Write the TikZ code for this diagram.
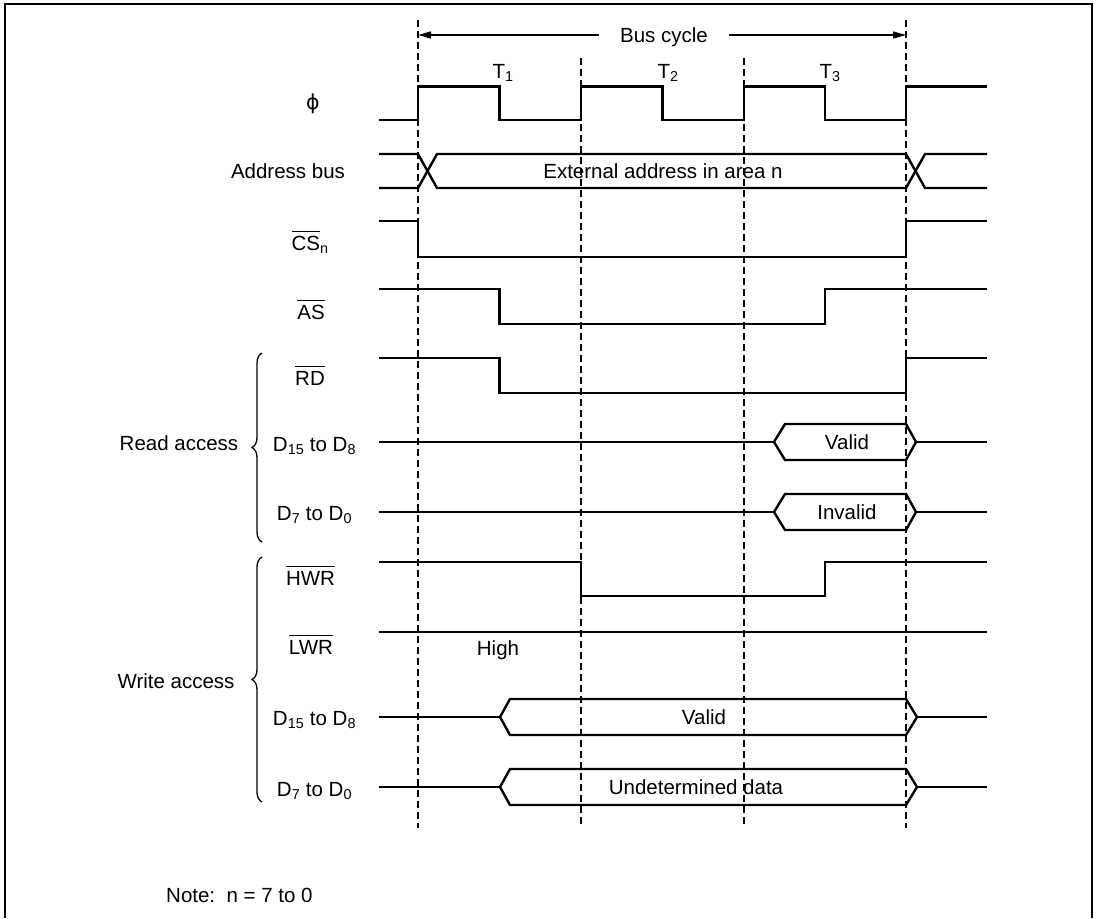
\documentclass[tikz,border=0pt]{standalone}
\usepackage{fontspec}
\setmainfont{Liberation Sans}
\newfontfamily\phifont{DejaVu Sans}
\usetikzlibrary{decorations.pathreplacing,arrows.meta}
\newcommand{\ovl}[1]{\setbox0\hbox{#1}\rlap{\rule[\dimexpr\ht0+4pt\relax]{\wd0}{1.3pt}}\box0}
\newcommand{\sbs}[1]{\textsubscript{#1}}
\begin{document}
\begin{tikzpicture}[x=1pt,y=-1pt,
  sig/.style={line width=2.4pt, line join=miter},
  gridline/.style={line width=1.1pt, dash pattern=on 6.5pt off 4.5pt},
  lbl/.style={font=\fontsize{20.5}{24}\selectfont, inner sep=0pt, text height=14.7pt, text depth=0pt},
  brc/.style={line width=1.3pt, decorate, decoration={brace, amplitude=10pt}}]
\useasboundingbox (0,0) rectangle (1102,918);
\draw[line width=1.5pt] (5,918) -- (5,4) -- (1092,4) -- (1092,918);

% dashed period lines
\draw[gridline] (418,20) -- (418,828);
\draw[gridline] (581,58) -- (581,828);
\draw[gridline] (744,58) -- (744,828);
\draw[gridline] (906,20) -- (906,828);

% bus cycle
\node[lbl, inner xsep=21pt] (bus) at (664,35) {Bus cycle};
\coordinate (bcL) at (418,35);
\coordinate (bcR) at (906,35);
\draw[line width=1.3pt, -{Triangle[length=13pt,width=7pt]}] (bus) -- (bcL);
\draw[line width=1.3pt, -{Triangle[length=13pt,width=7pt]}] (bus) -- (bcR);
\node[lbl] (t1) at (503,71) {T\sbs{1}};
\node[lbl] (t2) at (668,71) {T\sbs{2}};
\node[lbl] (t3) at (830,71) {T\sbs{3}};

% clock
\node[lbl] (lphi) at (313,102) {\phifont ϕ};
\draw[sig] (379,120) -- (418,120) -- (418,86.5) -- (499.5,86.5) -- (499.5,120) -- (581,120) -- (581,86.5) -- (662.5,86.5) -- (662.5,120) -- (744,120) -- (744,86.5) -- (825,86.5) -- (825,120) -- (906,120) -- (906,86.5) -- (987,86.5);

% address bus
\node[lbl] (laddr) at (288,171) {Address bus};
\draw[sig] (379,154) -- (418,154) -- (437,188) -- (906,188) -- (925,154) -- (987,154);
\draw[sig] (379,188) -- (418,188) -- (437,154) -- (906,154) -- (925,188) -- (987,188);
\node[lbl] (addr) at (663,171) {External address in area n};

% CSn
\node[lbl] (lcs) at (310,243) {\ovl{CS}\sbs{n}};
\draw[sig] (379,221) -- (418,221) -- (418,257) -- (906,257) -- (906,221) -- (987,221);

% AS
\node[lbl] (las) at (311,312) {\ovl{AS}};
\draw[sig] (379,289) -- (499.5,289) -- (499.5,324) -- (825,324) -- (825,289) -- (987,289);

% RD
\node[lbl] (lrd) at (310,378) {\ovl{RD}};
\draw[sig] (379,358) -- (499.5,358) -- (499.5,393) -- (906,393) -- (906,358) -- (987,358);

% read data
\node[lbl] (lrdh) at (314.5,444) {D\sbs{15} to D\sbs{8}};
\draw[sig] (379,442) -- (774,442);
\draw[sig] (774,442) -- (785,424) -- (906,424) -- (916,442) -- (906,460) -- (785,460) -- cycle;
\draw[sig] (916,442) -- (987,442);
\node[lbl] (rvalid) at (847,442) {Valid};

\node[lbl] (lrdl) at (314.5,513) {D\sbs{7} to D\sbs{0}};
\draw[sig] (379,512) -- (774,512);
\draw[sig] (774,512) -- (785,494) -- (906,494) -- (916,512) -- (906,530) -- (785,530) -- cycle;
\draw[sig] (916,512) -- (987,512);
\node[lbl] (rinvalid) at (847,512) {Invalid};

\node[lbl] (readacc) at (179,443) {Read access};
\draw[brc] (262,542) -- (262,353);

% HWR
\node[lbl] (lhwr) at (310.5,578) {\ovl{HWR}};
\draw[sig] (379,562) -- (581,562) -- (581,596) -- (825,596) -- (825,562) -- (987,562);

% LWR
\node[lbl] (llwr) at (311,647) {\ovl{LWR}};
\draw[sig] (379,632) -- (987,632);
\node[lbl] (high) at (498,648) {High};

% write data
\node[lbl] (lwrh) at (314.5,718) {D\sbs{15} to D\sbs{8}};
\draw[sig] (379,717) -- (500,717);
\draw[sig] (500,717) -- (510,699) -- (906,699) -- (917,717) -- (906,735) -- (510,735) -- cycle;
\draw[sig] (917,717) -- (987,717);
\node[lbl] (wvalid) at (704,717) {Valid};

\node[lbl] (lwrl) at (314.5,789) {D\sbs{7} to D\sbs{0}};
\draw[sig] (379,787) -- (500,787);
\draw[sig] (500,787) -- (510,769) -- (906,769) -- (917,787) -- (906,805) -- (510,805) -- cycle;
\draw[sig] (917,787) -- (987,787);
\node[lbl] (wundet) at (696,787) {Undetermined data};

\node[lbl] (writeacc) at (176,681) {Write access};
\draw[brc] (262,802) -- (262,557);

% note
\node[lbl, anchor=west] (note) at (166,895) {Note:\ \ n = 7 to 0};
\end{tikzpicture}
\end{document}
